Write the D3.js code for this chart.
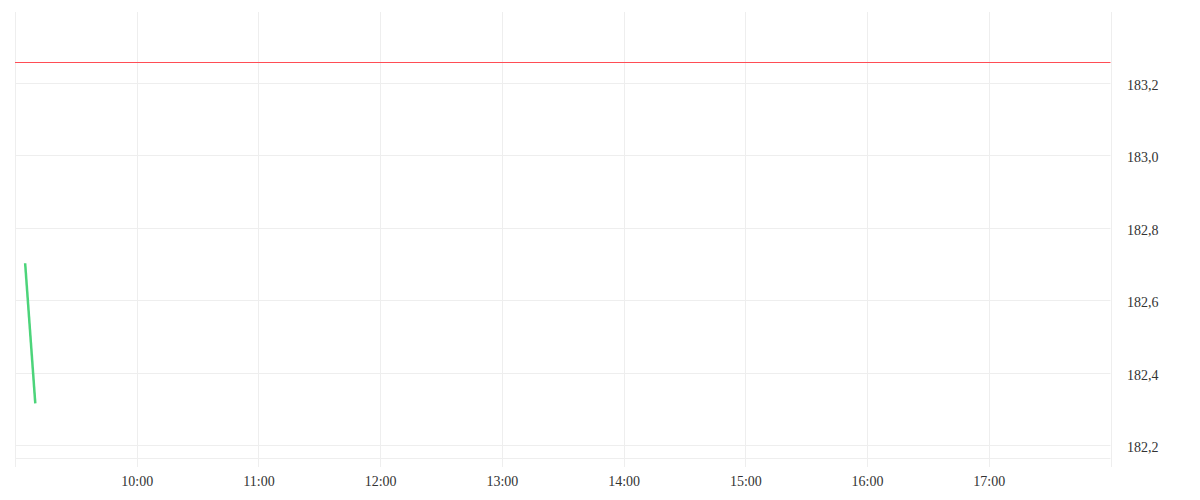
<!DOCTYPE html>
<html>
<head>
<meta charset="utf-8">
<script src="https://cdn.jsdelivr.net/npm/d3@7/dist/d3.min.js"></script>
<style>
  html, body { margin: 0; padding: 0; background: #ffffff; }
  svg { display: block; }
</style>
</head>
<body>
<svg id="chart" width="1200" height="500"></svg>
<script>
// ---- data ----
const priceTimes = ["09:05", "09:10"];
const priceValues = [182.702, 182.315];
const referenceLevel = 183.258;
const yTicks = [182.2, 182.4, 182.6, 182.8, 183.0, 183.2];
const xTickLabels = ["10:00", "11:00", "12:00", "13:00", "14:00", "15:00", "16:00", "17:00"];
const gridHours = ["09:00", "10:00", "11:00", "12:00", "13:00", "14:00", "15:00", "16:00", "17:00", "18:00"];
const sessionStart = "09:00";
const sessionEnd = "18:00";
const yDomain = [182.164, 183.396];

// ---- setup ----
const parse = d3.timeParse("%H:%M");
const svg = d3.select("#chart");
const plotLeft = 15, plotRight = 1110.5, plotTop = 12, plotBottom = 458;

const x = d3.scaleTime()
  .domain([parse(sessionStart), parse(sessionEnd)])
  .range([plotLeft, plotRight]);
const y = d3.scaleLinear().domain(yDomain).range([plotBottom, plotTop]);

const gridColor = "#eeeeee";
const font = "'Liberation Serif', 'DejaVu Serif', serif";

// vertical grid lines
svg.append("g").selectAll("line")
  .data(gridHours.map(parse))
  .join("line")
  .attr("x1", d => Math.round(x(d)) + 0.5)
  .attr("x2", d => Math.round(x(d)) + 0.5)
  .attr("y1", plotTop)
  .attr("y2", 467)
  .attr("stroke", gridColor)
  .attr("stroke-width", 1);

// horizontal grid lines
svg.append("g").selectAll("line")
  .data(yTicks)
  .join("line")
  .attr("x1", plotLeft)
  .attr("x2", plotRight)
  .attr("y1", d => Math.round(y(d)) + 0.5)
  .attr("y2", d => Math.round(y(d)) + 0.5)
  .attr("stroke", gridColor)
  .attr("stroke-width", 1);

// bottom border
svg.append("line")
  .attr("x1", plotLeft).attr("x2", plotRight)
  .attr("y1", plotBottom + 0.5).attr("y2", plotBottom + 0.5)
  .attr("stroke", gridColor).attr("stroke-width", 1);

// y axis labels (right side)
const yAxis = d3.axisRight(y)
  .tickValues(yTicks)
  .tickSize(0)
  .tickPadding(0)
  .tickFormat(d => d3.format(".1f")(d).replace(".", ","));
const ya = svg.append("g")
  .attr("transform", `translate(1127,2)`)
  .call(yAxis);
ya.select(".domain").remove();
ya.selectAll("text")
  .attr("font-family", font)
  .attr("font-size", 14)
  .attr("fill", "#333333");

// x axis labels
const xAxis = d3.axisBottom(x)
  .tickValues(xTickLabels.map(parse))
  .tickSize(0)
  .tickPadding(0)
  .tickFormat(d3.timeFormat("%H:%M"));
const xa = svg.append("g")
  .attr("transform", `translate(0,476)`)
  .call(xAxis);
xa.select(".domain").remove();
xa.selectAll("text")
  .attr("font-family", font)
  .attr("font-size", 14)
  .attr("fill", "#333333");

// reference line
const refY = Math.round(y(referenceLevel)) + 0.5;
svg.append("line")
  .attr("x1", plotLeft).attr("x2", plotRight)
  .attr("y1", refY).attr("y2", refY)
  .attr("stroke", "#ff4d55")
  .attr("stroke-width", 1);

// price line
const pts = priceTimes.map((t, i) => [parse(t), priceValues[i]]);
svg.append("path")
  .datum(pts)
  .attr("fill", "none")
  .attr("stroke", "#4cd47a")
  .attr("stroke-width", 2.5)
  .attr("d", d3.line().x(d => x(d[0])).y(d => y(d[1])));
</script>
</body>
</html>
